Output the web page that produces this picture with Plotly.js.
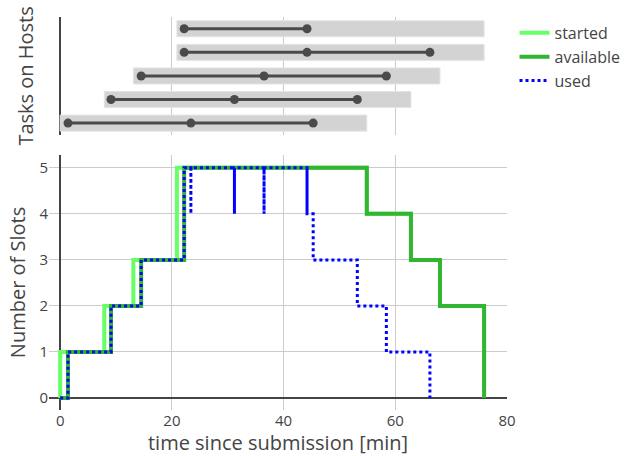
<!DOCTYPE html>
<html>
<head>
<meta charset="utf-8">
<script src="https://cdn.plot.ly/plotly-3.0.1.min.js"></script>
<style>html,body{margin:0;padding:0;background:#fff;}#chart{width:629px;height:456px;}</style>
</head>
<body>
<div id="chart"></div>
<script>
// Hosts (bottom row = host 0)
const hostIds = [0, 1, 2, 3, 4];
const hostStart = [0, 7.9, 13.1, 20.9, 20.9];
const hostEnd = [54.9, 62.8, 68.0, 75.9, 75.9];
// Task boundaries on each host
const hostTasks = [
  [1.4, 23.4, 45.3],
  [9.1, 31.2, 53.2],
  [14.5, 36.5, 58.4],
  [22.2, 44.2, 66.2],
  [22.2, 44.2]
];

// Slot counts (step functions)
const startedX = [0, 0, 7.9, 13.1, 20.9, 54.9, 62.8, 68.0, 75.9];
const startedY = [0, 1, 2, 3, 5, 4, 3, 2, 0];
const availableX = [0, 1.4, 9.1, 14.5, 22.2, 54.9, 62.8, 68.0, 75.9];
const availableY = [0, 1, 2, 3, 5, 4, 3, 2, 0];
const usedX = [0, 1.4, 9.1, 14.5, 22.2, 23.4, 23.4, 31.2, 31.2, 31.2, 31.2, 36.5, 36.5, 36.5, 36.5, 44.2, 44.2, 44.2, 45.3, 53.2, 58.4, 66.2];
const usedY = [0, 1, 2, 3, 5, 4, 5, 4, 5, 4, 5, 4, 5, 4, 5, 4, 5, 4, 3, 2, 1, 0];

const traces = [];
traces.push({
  type: 'bar', orientation: 'h', xaxis: 'x2', yaxis: 'y2',
  y: hostIds, base: hostStart, x: hostEnd.map((e, i) => e - hostStart[i]),
  width: 0.68, marker: {color: '#d3d3d3', line: {color: '#e4e4e4', width: 1}},
  showlegend: false, hoverinfo: 'skip'
});
hostTasks.forEach((t, i) => {
  traces.push({
    type: 'scatter', mode: 'lines+markers', xaxis: 'x2', yaxis: 'y2',
    x: t, y: t.map(() => hostIds[i]),
    line: {color: '#4a4a4a', width: 3},
    marker: {color: '#4a4a4a', size: 9},
    showlegend: false
  });
});
traces.push({type: 'scatter', mode: 'lines', name: 'started', x: startedX, y: startedY,
  line: {shape: 'hv', color: '#66ff66', width: 4}});
traces.push({type: 'scatter', mode: 'lines', name: 'available', x: availableX, y: availableY,
  line: {shape: 'hv', color: '#33b533', width: 4}});
traces.push({type: 'scatter', mode: 'lines', name: 'used', x: usedX, y: usedY,
  line: {shape: 'hv', color: '#0000ff', width: 3, dash: 'dot'}});

const layout = {
  width: 629, height: 456,
  margin: {l: 49, r: 122, t: 17, b: 46},
  font: {family: '"Open Sans", verdana, arial, sans-serif', size: 15, color: '#444'},
  paper_bgcolor: '#fff', plot_bgcolor: '#fff',
  showlegend: true,
  legend: {font: {size: 16}, tracegroupgap: 0, xref: 'container', yref: 'container',
    x: 0.818, y: 0.965, xanchor: 'left', yanchor: 'top'},
  xaxis: {domain: [0, 1], range: [-2, 80], anchor: 'y',
    gridcolor: '#cccccc', gridwidth: 1, zeroline: true, zerolinecolor: '#444', zerolinewidth: 2,
    tickvals: [0, 20, 40, 60, 80], ticks: '', showline: false,
    title: {text: 'time since submission [min]', font: {size: 20}, standoff: 2}},
  yaxis: {domain: [0, 0.649], range: [-0.26, 5.28], anchor: 'x',
    gridcolor: '#cccccc', gridwidth: 1, zeroline: true, zerolinecolor: '#444', zerolinewidth: 2,
    tickvals: [0, 1, 2, 3, 4, 5], ticks: '', showline: false,
    title: {text: 'Number of Slots', font: {size: 20}, standoff: 8}},
  xaxis2: {domain: [0, 1], range: [-2, 80], anchor: 'y2', matches: 'x',
    showticklabels: false, gridcolor: '#cccccc', zeroline: true, zerolinecolor: '#444', zerolinewidth: 2,
    tickvals: [0, 20, 40, 60, 80], ticks: ''},
  yaxis2: {domain: [0.70, 1], range: [-0.5, 4.5], anchor: 'x2',
    showticklabels: false, showgrid: false, zeroline: false, ticks: '',
    title: {text: 'Tasks on Hosts', font: {size: 20}, standoff: 8}}
};

Plotly.newPlot('chart', traces, layout, {displayModeBar: false, staticPlot: true});
</script>
</body>
</html>
